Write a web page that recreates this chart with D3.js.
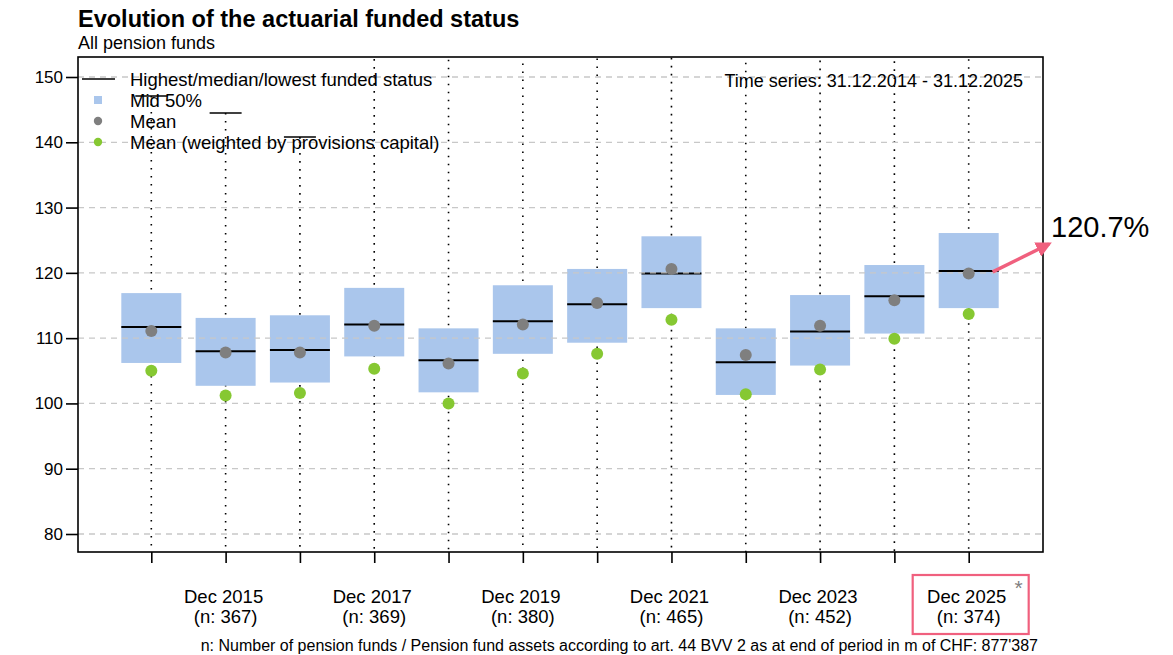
<!DOCTYPE html>
<html>
<head>
<meta charset="utf-8">
<script src="https://cdn.jsdelivr.net/npm/d3@7"></script>
<style>
  body { margin: 0; background: #fff; }
  svg { font-family: "Liberation Sans", Arial, sans-serif; }
</style>
</head>
<body>
<div id="chart"></div>
<script>
// data
const periods = ["Dec 2014", "Dec 2015", "Dec 2016", "Dec 2017", "Dec 2018", "Dec 2019",
                 "Dec 2020", "Dec 2021", "Dec 2022", "Dec 2023", "Dec 2024", "Dec 2025"];
const nFunds = [null, 367, null, 369, null, 380, null, 465, null, 452, null, 374];
const highest = [147.1, 144.5, 140.8, 165, 160, 168, 170, 175, 162, 166, 172, 176];
const lowest = [70, 68, 69, 70, 66, 68, 70, 72, 65, 67, 70, 71];
const q3 = [116.9, 113.1, 113.5, 117.7, 111.5, 118.1, 120.6, 125.6, 111.5, 116.6, 121.2, 126.1];
const q1 = [106.2, 102.7, 103.2, 107.2, 101.7, 107.6, 109.3, 114.6, 101.3, 105.8, 110.7, 114.6];
const median = [111.7, 108.0, 108.2, 112.1, 106.6, 112.6, 115.2, 119.9, 106.3, 111.0, 116.4, 120.3];
const mean = [111.1, 107.8, 107.8, 111.9, 106.1, 112.1, 115.4, 120.6, 107.4, 111.9, 115.8, 119.9];
const meanWeighted = [105.0, 101.2, 101.6, 105.3, 100.0, 104.6, 107.6, 112.8, 101.4, 105.2, 109.9, 113.7];
const yTicks = [80, 90, 100, 110, 120, 130, 140, 150];
const highlightLabel = "120.7%";

const W = 1173, H = 655;
const plot = {left: 78, right: 1043, top: 57, bottom: 552};

const svg = d3.select("#chart").append("svg")
    .attr("width", W).attr("height", H);

const x = d3.scaleLinear().domain([-1, periods.length]).range([77, 1043]);
const y = d3.scaleLinear().domain([80, 150]).range([534, 77]);

const boxW = 60, capW = 32;
const idx = d3.range(periods.length);

svg.append("defs").append("clipPath").attr("id", "clip")
    .append("rect")
    .attr("x", plot.left).attr("y", plot.top)
    .attr("width", plot.right - plot.left).attr("height", plot.bottom - plot.top);

const g = svg.append("g").attr("clip-path", "url(#clip)");

// whiskers (highest / lowest)
g.selectAll(".whisker").data(idx).join("line")
    .attr("x1", d => x(d)).attr("x2", d => x(d))
    .attr("y1", d => y(highest[d])).attr("y2", d => y(lowest[d]))
    .attr("stroke", "#000").attr("stroke-width", 1.6)
    .attr("stroke-dasharray", "1.6,6.4");

g.selectAll(".capHi").data(idx).join("line")
    .attr("x1", d => x(d) - capW / 2).attr("x2", d => x(d) + capW / 2)
    .attr("y1", d => y(highest[d])).attr("y2", d => y(highest[d]))
    .attr("stroke", "#000").attr("stroke-width", 1.5);

g.selectAll(".capLo").data(idx).join("line")
    .attr("x1", d => x(d) - capW / 2).attr("x2", d => x(d) + capW / 2)
    .attr("y1", d => y(lowest[d])).attr("y2", d => y(lowest[d]))
    .attr("stroke", "#000").attr("stroke-width", 1.5);

// mid 50% boxes
g.selectAll(".box").data(idx).join("rect")
    .attr("x", d => x(d) - boxW / 2).attr("width", boxW)
    .attr("y", d => y(q3[d])).attr("height", d => y(q1[d]) - y(q3[d]))
    .attr("fill", "#aac6ec");

g.selectAll(".median").data(idx).join("line")
    .attr("x1", d => x(d) - boxW / 2).attr("x2", d => x(d) + boxW / 2)
    .attr("y1", d => y(median[d])).attr("y2", d => y(median[d]))
    .attr("stroke", "#000").attr("stroke-width", 2);

// grid
g.selectAll(".grid").data(yTicks).join("line")
    .attr("x1", plot.left).attr("x2", plot.right)
    .attr("y1", d => y(d)).attr("y2", d => y(d))
    .attr("stroke", "#c8c8c8").attr("stroke-width", 1.3)
    .attr("stroke-dasharray", "6,5");

g.selectAll(".mean").data(idx).join("circle")
    .attr("cx", d => x(d)).attr("cy", d => y(mean[d])).attr("r", 6)
    .attr("fill", "#7f7f7f");

g.selectAll(".meanW").data(idx).join("circle")
    .attr("cx", d => x(d)).attr("cy", d => y(meanWeighted[d])).attr("r", 6)
    .attr("fill", "#86c832");

// frame
svg.append("rect")
    .attr("x", plot.left).attr("y", plot.top)
    .attr("width", plot.right - plot.left).attr("height", plot.bottom - plot.top)
    .attr("fill", "none").attr("stroke", "#000").attr("stroke-width", 1.6);

// axes
const yAxis = svg.append("g")
    .attr("transform", "translate(" + plot.left + ",0)")
    .call(d3.axisLeft(y).tickValues(yTicks).tickSize(12).tickPadding(3));
yAxis.select(".domain").remove();
yAxis.selectAll("line").attr("stroke-width", 1.6);
yAxis.selectAll("text").attr("font-size", 17).attr("fill", "#000")
    .attr("font-family", "Liberation Sans, Arial, sans-serif");

const xAxis = svg.append("g")
    .attr("transform", "translate(0," + plot.bottom + ")")
    .call(d3.axisBottom(x).tickValues(idx).tickSize(11).tickFormat(""));
xAxis.select(".domain").remove();
xAxis.selectAll("line").attr("stroke-width", 1.6);

const labels = svg.append("g").attr("font-size", 18.5).attr("text-anchor", "middle");
idx.filter(d => nFunds[d] !== null).forEach(d => {
    const t = labels.append("text").attr("x", x(d) - 2).attr("y", 603);
    t.append("tspan").attr("x", x(d) - 2).text(periods[d]);
    t.append("tspan").attr("x", x(d)).attr("dy", 20).text("(n: " + nFunds[d] + ")");
});

// highlight box around last label
const last = periods.length - 1;
svg.append("rect")
    .attr("x", x(last) - 56).attr("y", 575).attr("width", 116).attr("height", 59)
    .attr("fill", "none").attr("stroke", "#f0607e").attr("stroke-width", 2.2);
svg.append("text").attr("x", x(last) + 50).attr("y", 595)
    .attr("font-size", 21).attr("fill", "#7f7f7f").attr("text-anchor", "middle").text("*");

// arrow to the highlighted value
svg.append("defs").append("marker")
    .attr("id", "arrowhead").attr("viewBox", "0 0 10 10")
    .attr("refX", 8).attr("refY", 5).attr("markerWidth", 4.5).attr("markerHeight", 4.5)
    .attr("orient", "auto")
    .append("path").attr("d", "M0,0 L10,5 L0,10 z").attr("fill", "#f0607e");
svg.append("line")
    .attr("x1", x(last) + 24).attr("y1", y(median[last]) + 1)
    .attr("x2", 1049).attr("y2", 244)
    .attr("stroke", "#f0607e").attr("stroke-width", 3.5)
    .attr("marker-end", "url(#arrowhead)");
svg.append("text").attr("x", 1051).attr("y", 237)
    .attr("font-size", 29).attr("fill", "#000").text(highlightLabel);

// titles
svg.append("text").attr("x", 78).attr("y", 27)
    .attr("font-size", 23.5).attr("font-weight", "bold").text("Evolution of the actuarial funded status");
svg.append("text").attr("x", 78).attr("y", 49)
    .attr("font-size", 18).text("All pension funds");

svg.append("text").attr("x", 1023).attr("y", 87)
    .attr("font-size", 18).attr("text-anchor", "end")
    .text("Time series: 31.12.2014 - 31.12.2025");

svg.append("text").attr("x", 1038).attr("y", 651)
    .attr("font-size", 16).attr("text-anchor", "end")
    .text("n: Number of pension funds / Pension fund assets according to art. 44 BVV 2 as at end of period in m of CHF: 877'387");

// legend
const legendItems = [
    {label: "Highest/median/lowest funded status", type: "line"},
    {label: "Mid 50%", type: "square", color: "#aac6ec"},
    {label: "Mean", type: "dot", color: "#7f7f7f"},
    {label: "Mean (weighted by provisions capital)", type: "dot", color: "#86c832"}
];
const legend = svg.append("g").attr("font-size", 18.5);
legendItems.forEach((item, i) => {
    const ly = 79 + i * 21;
    if (item.type === "line") {
        legend.append("line").attr("x1", 82).attr("x2", 115).attr("y1", ly).attr("y2", ly)
            .attr("stroke", "#000").attr("stroke-width", 1.6);
    } else if (item.type === "square") {
        legend.append("rect").attr("x", 94).attr("y", ly - 4).attr("width", 8).attr("height", 8)
            .attr("fill", item.color);
    } else {
        legend.append("circle").attr("cx", 98).attr("cy", ly).attr("r", 4.2).attr("fill", item.color);
    }
    legend.append("text").attr("x", 130).attr("y", ly + 6.5).text(item.label);
});
</script>
</body>
</html>
